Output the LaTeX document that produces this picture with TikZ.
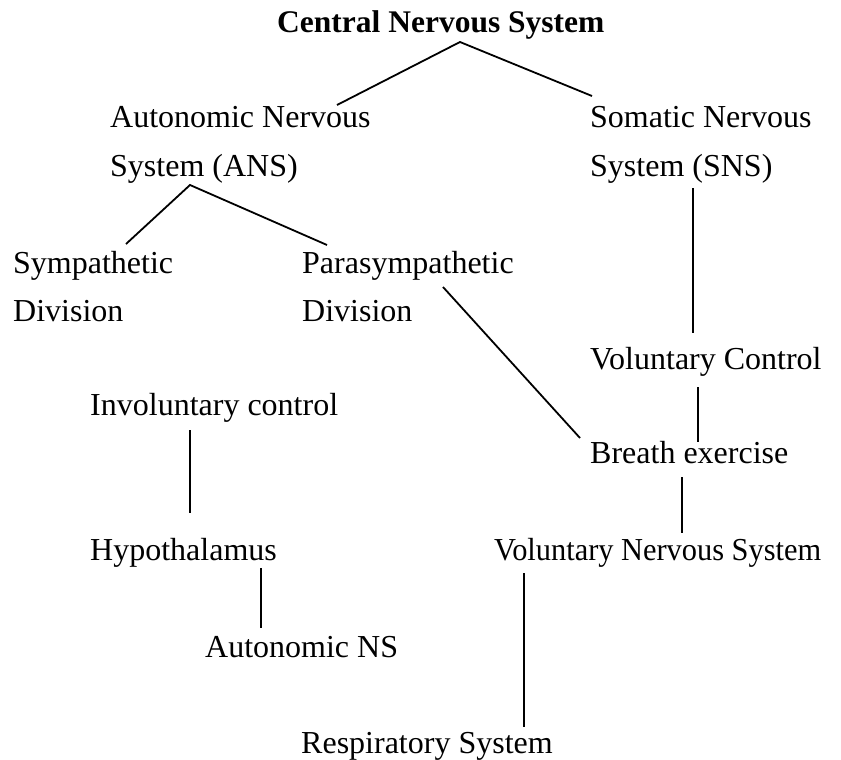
\documentclass[tikz,border=0pt]{standalone}
\usepackage{fontspec}
\setmainfont{Liberation Serif}
\usetikzlibrary{calc}
\begin{document}
\begin{tikzpicture}[x=1pt,y=-1pt,
  lbl/.style={anchor=base west,inner sep=0pt,font=\fontsize{32}{38}\selectfont},
  title/.style={lbl,font=\fontsize{31.5}{38}\selectfont\bfseries},
  link/.style={line width=1.8pt,line cap=butt}]
\useasboundingbox (0,0) rectangle (841,760);
\node[title] (cns) at (277,33) {Central Nervous System};
\node[lbl] (ansA) at (110,128) {Autonomic Nervous};
\node[lbl] (ansB) at (110,176) {System (ANS)};
\node[lbl] (snsA) at (590,128) {Somatic Nervous};
\node[lbl] (snsB) at (590,176) {System (SNS)};
\node[lbl] (symA) at (13,273) {Sympathetic};
\node[lbl] (symB) at (13,321) {Division};
\node[lbl] (parA) at (302,273) {Parasympathetic};
\node[lbl] (parB) at (302,321) {Division};
\node[lbl] (vc) at (590,369) {Voluntary Control};
\node[lbl] (inv) at (90,415) {Involuntary control};
\node[lbl] (br) at (590,463) {Breath exercise};
\node[lbl] (hyp) at (90,560) {Hypothalamus};
\node[lbl] (vns) at (494,560) {\scalebox{0.95}[1]{Voluntary Nervous System}};
\node[lbl] (ansn) at (205,657) {Autonomic NS};
\node[lbl] (resp) at (301,753) {Respiratory System};
% connectors
\draw[link] ($(ansA.base west)+(227,-23)$) -- ($(cns.base west)+(183,9)$) -- ($(snsA.base west)+(2,-32)$);
\draw[link] ($(symA.base west)+(113,-29)$) -- ($(ansB.base west)+(80,9)$) -- ($(parA.base west)+(25,-28)$);
\draw[link] ($(parA.base west)+(141,14)$) -- ($(br.base west)+(-10,-25)$);
\draw[link] ($(snsB.base west)+(103,12)$) -- ($(vc.base west)+(103,-36)$);
\draw[link] ($(vc.base west)+(108,18)$) -- ($(br.base west)+(108,-21)$);
\draw[link] ($(br.base west)+(92,14)$) -- ($(vns.base west)+(188,-27)$);
\draw[link] ($(inv.base west)+(100,15)$) -- ($(hyp.base west)+(100,-47)$);
\draw[link] ($(hyp.base west)+(171,8)$) -- ($(ansn.base west)+(56,-29)$);
\draw[link] ($(vns.base west)+(30,13)$) -- ($(resp.base west)+(223,-26)$);
\end{tikzpicture}
\end{document}
